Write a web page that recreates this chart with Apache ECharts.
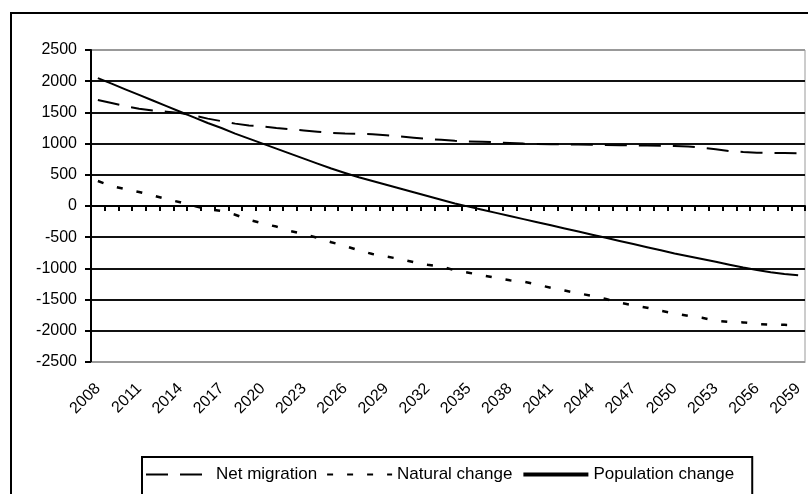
<!DOCTYPE html>
<html lang="en">
<head>
  <meta charset="UTF-8">
  <title>population change</title>
  <style>
    html, body { margin:0; padding:0; background:#fff; }
    #chart { width:808px; height:494px; }
  </style>
</head>
<body>
  <div id="chart"></div>
  <script src="https://cdn.jsdelivr.net/npm/echarts@6/dist/echarts.min.js"></script>
  <script>
    var years = []
    for (var y = 2008; y <= 2059; y++) years.push(String(y))

    var netMigration = [
      1700, 1650, 1600, 1560, 1530, 1510, 1490, 1450, 1400, 1360,
      1320, 1290, 1275, 1250, 1230, 1210, 1190, 1170, 1160, 1155,
      1150, 1135, 1115, 1095, 1075, 1060, 1045, 1035, 1030, 1020,
      1010, 1000, 995, 990, 988, 985, 982, 978, 975, 972,
      968, 965, 960, 955, 935, 910, 880, 865, 855, 850,
      848, 845
    ]
    var naturalChange = [
      400, 320, 270, 225, 170, 110, 60, 0, -50, -80,
      -140, -220, -280, -330, -400, -450, -510, -580, -640, -710,
      -770, -810, -850, -900, -940, -970, -1030, -1070, -1110, -1150,
      -1190, -1210, -1260, -1310, -1355, -1400, -1440, -1490, -1550, -1590,
      -1630, -1680, -1720, -1760, -1790, -1840, -1860, -1865, -1890, -1900,
      -1905, -1910
    ]
    var populationChange = [
      2050, 1960, 1870, 1780, 1690, 1600, 1510, 1420, 1330, 1250,
      1160, 1080, 1000, 920, 840, 760, 680, 600, 530, 460,
      400, 340, 280, 220, 160, 100, 40, -10, -60, -110,
      -160, -210, -260, -310, -360, -410, -460, -510, -560, -610,
      -660, -710, -760, -805, -850, -895, -940, -985, -1025, -1060,
      -1090, -1110
    ]

    var font = 'Liberation Sans, Arial, sans-serif'
    // grey lines at the top and bottom of the plot, black ones in between
    var gridColors = ['#999']
    for (var i = 0; i < 9; i++) gridColors.push('#111')
    gridColors.push('#999')

    var myChart = echarts.init(document.getElementById('chart'))
    var option = {
      animation: false,
      backgroundColor: '#fff',
      textStyle: { fontFamily: font, color: '#000' },
      graphic: [{
        type: 'rect',
        shape: { x: 11, y: 13, width: 810, height: 500 },
        style: { fill: 'none', stroke: '#000', lineWidth: 2 },
        z: 0
      }],
      grid: {
        left: 91,
        right: 3,
        top: 50,
        bottom: 132,
        show: true,
        borderColor: '#999',
        borderWidth: 1
      },
      legend: {
        left: 142,
        top: 457,
        padding: [9, 18, 20, 3],
        borderColor: '#000',
        borderWidth: 2,
        itemWidth: 65,
        itemHeight: 14,
        itemGap: 9,
        itemStyle: { opacity: 0 },
        textStyle: { fontFamily: font, fontSize: 17, color: '#000' },
        data: [
          { name: 'Net migration' },
          { name: 'Natural change' },
          { name: 'Population change', lineStyle: { width: 4 } }
        ]
      },
      xAxis: [
        {
          type: 'category',
          data: years,
          boundaryGap: true,
          axisLine: { onZero: false, lineStyle: { color: '#999', width: 1 } },
          axisTick: { show: false },
          axisLabel: {
            interval: 2,
            rotate: 45,
            margin: 24,
            fontSize: 16,
            color: '#000',
            fontFamily: font
          },
          splitLine: { show: false }
        },
        {
          type: 'category',
          data: years,
          position: 'bottom',
          boundaryGap: true,
          axisLine: { onZero: true, lineStyle: { color: '#000', width: 2 } },
          axisTick: { show: true, interval: 0, length: 5, inside: false, lineStyle: { color: '#000', width: 2 } },
          axisLabel: { show: false },
          splitLine: { show: false }
        }
      ],
      yAxis: {
        type: 'value',
        min: -2500,
        max: 2500,
        interval: 500,
        axisLine: { show: true, lineStyle: { color: '#000', width: 2 } },
        axisTick: { show: true, length: 6, lineStyle: { color: '#000', width: 2 } },
        axisLabel: {
          fontSize: 16,
          color: '#000',
          margin: 14,
          fontFamily: font,
          formatter: function (v) { return String(v) }
        },
        splitLine: { show: true, lineStyle: { color: gridColors, width: 2 } }
      },
      series: [
        {
          name: 'Net migration',
          type: 'line',
          symbol: 'none',
          data: netMigration,
          lineStyle: { color: '#000', width: 2, type: [22, 12] },
          itemStyle: { color: '#000' },
          z: 3
        },
        {
          name: 'Natural change',
          type: 'line',
          symbol: 'none',
          data: naturalChange,
          lineStyle: { color: '#000', width: 2.5, type: [6, 14] },
          itemStyle: { color: '#000' },
          z: 3
        },
        {
          name: 'Population change',
          type: 'line',
          symbol: 'none',
          data: populationChange,
          lineStyle: { color: '#000', width: 2 },
          itemStyle: { color: '#000' },
          z: 3
        }
      ]
    }
    myChart.setOption(option)
  </script>
</body>
</html>
